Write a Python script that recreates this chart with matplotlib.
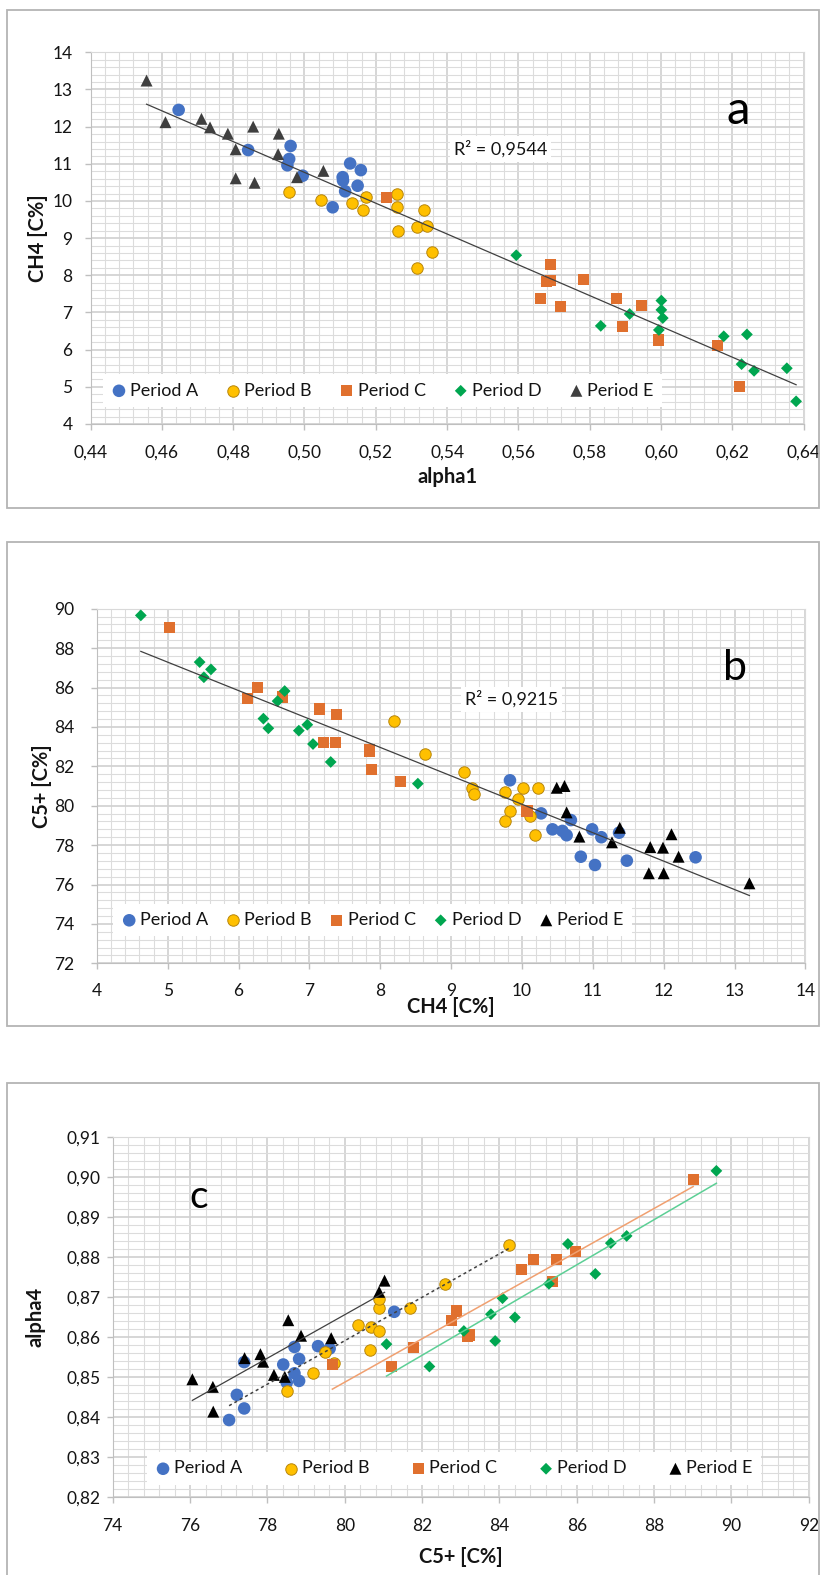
import numpy as np
import matplotlib
matplotlib.use("Agg")
import matplotlib.pyplot as plt
from matplotlib.patches import Rectangle
from matplotlib.ticker import MultipleLocator, FuncFormatter

plt.rcParams['font.family'] = ['Lato', 'DejaVu Sans']

W, H = 822, 1575

# --- panel a: alpha1 vs CH4 ---
a_alpha1_A = [0.4647, 0.4842, 0.4961, 0.4957, 0.4952, 0.4995, 0.5128, 0.5158, 0.5107, 0.5108, 0.5149, 0.5114, 0.5079]
a_ch4_A = [12.45, 11.37, 11.48, 11.13, 10.96, 10.68, 11.01, 10.83, 10.64, 10.55, 10.41, 10.26, 9.83]
a_alpha1_B = [0.4957, 0.5046, 0.5134, 0.5163, 0.5173, 0.5259, 0.5260, 0.5263, 0.5335, 0.5315, 0.5344, 0.5358, 0.5315]
a_ch4_B = [10.24, 10.02, 9.95, 9.77, 10.12, 10.18, 9.83, 9.18, 9.77, 9.29, 9.33, 8.64, 8.19]
a_alpha1_C = [0.5231, 0.5689, 0.5680, 0.5690, 0.5661, 0.5717, 0.5783, 0.5874, 0.5946, 0.5891, 0.5992, 0.6158, 0.6219]
a_ch4_C = [10.10, 8.30, 7.83, 7.87, 7.38, 7.16, 7.89, 7.38, 7.19, 6.63, 6.26, 6.11, 5.00]
a_alpha1_D = [0.5594, 0.5831, 0.5912, 0.6001, 0.6001, 0.6005, 0.5994, 0.6176, 0.6241, 0.6226, 0.6261, 0.6353, 0.6379]
a_ch4_D = [8.54, 6.64, 6.96, 7.32, 7.07, 6.85, 6.53, 6.36, 6.41, 5.61, 5.43, 5.50, 4.61]
a_alpha1_E = [0.4557, 0.4610, 0.4711, 0.4735, 0.4785, 0.4807, 0.4856, 0.4928, 0.4926, 0.4807, 0.4860, 0.4979, 0.5053]
a_ch4_E = [13.24, 12.12, 12.21, 11.98, 11.81, 11.39, 12.00, 11.81, 11.26, 10.61, 10.49, 10.64, 10.81]

# --- panel b: CH4 vs C5+ ---
b_ch4_A = [9.83, 10.27, 10.69, 10.43, 10.57, 10.63, 10.99, 11.12, 11.37, 10.83, 11.03, 11.48, 12.45]
b_c5_A = [81.29, 79.61, 79.27, 78.80, 78.72, 78.50, 78.80, 78.40, 78.63, 77.41, 76.99, 77.21, 77.38]
b_ch4_B = [8.19, 8.63, 9.18, 9.29, 9.32, 9.76, 10.02, 10.23, 9.95, 9.83, 9.76, 10.11, 10.18]
b_c5_B = [84.30, 82.62, 81.73, 80.88, 80.61, 80.71, 80.88, 80.88, 80.32, 79.73, 79.22, 79.48, 78.50]
b_ch4_C = [5.02, 6.12, 6.27, 6.62, 7.14, 7.38, 7.20, 7.37, 7.85, 7.85, 7.88, 8.29, 10.07]
b_c5_C = [89.06, 85.42, 86.01, 85.52, 84.91, 84.64, 83.23, 83.23, 82.86, 82.76, 81.83, 81.22, 79.73]
b_ch4_D = [4.62, 5.45, 5.61, 5.51, 6.65, 6.55, 6.35, 6.42, 6.97, 6.85, 7.05, 7.30, 8.53]
b_c5_D = [89.66, 87.29, 86.92, 86.52, 85.82, 85.31, 84.42, 83.93, 84.11, 83.81, 83.13, 82.22, 81.12]
b_ch4_E = [10.49, 10.60, 10.63, 10.81, 11.38, 11.27, 11.81, 11.99, 12.11, 12.21, 11.79, 12.00, 13.21]
b_c5_E = [80.91, 81.00, 79.66, 78.43, 78.88, 78.14, 77.90, 77.87, 78.55, 77.41, 76.57, 76.57, 76.06]

# --- panel c: C5+ vs alpha4 ---
c_c5_A = [77.40, 77.21, 77.40, 77.01, 78.41, 78.70, 78.82, 78.70, 78.50, 78.82, 79.31, 79.61, 81.28]
c_alpha4_A = [0.8537, 0.8455, 0.8421, 0.8392, 0.8531, 0.8575, 0.8545, 0.8509, 0.8486, 0.8490, 0.8577, 0.8571, 0.8663]
c_c5_B = [78.50, 79.19, 79.49, 79.73, 80.35, 80.66, 80.68, 80.89, 80.89, 80.89, 81.69, 82.59, 84.24]
c_alpha4_B = [0.8465, 0.8509, 0.8563, 0.8535, 0.8630, 0.8567, 0.8626, 0.8616, 0.8672, 0.8694, 0.8672, 0.8732, 0.8830]
c_c5_C = [79.68, 81.20, 81.77, 82.77, 82.90, 83.18, 83.22, 84.58, 84.88, 85.48, 85.96, 85.38, 89.01]
c_alpha4_C = [0.8531, 0.8526, 0.8574, 0.8641, 0.8665, 0.8602, 0.8605, 0.8769, 0.8793, 0.8793, 0.8813, 0.8740, 0.8995]
c_c5_D = [81.08, 82.19, 83.08, 83.78, 84.08, 84.40, 83.89, 85.28, 85.77, 86.48, 86.88, 87.29, 89.61]
c_alpha4_D = [0.8582, 0.8526, 0.8615, 0.8657, 0.8697, 0.8649, 0.8590, 0.8733, 0.8833, 0.8758, 0.8835, 0.8853, 0.9016]
c_c5_E = [76.06, 76.59, 76.60, 77.41, 77.82, 77.89, 78.17, 78.45, 78.54, 78.87, 79.65, 80.89, 81.03]
c_alpha4_E = [0.8494, 0.8475, 0.8413, 0.8547, 0.8557, 0.8538, 0.8505, 0.8500, 0.8642, 0.8603, 0.8597, 0.8713, 0.8741]

periods = ["Period A", "Period B", "Period C", "Period D", "Period E"]
r2_a = "R² = 0,9544"
r2_b = "R² = 0,9215"

# marker styles per period
STYLE = {
    "Period A": dict(marker="o", s=82, color="#4472C4", edgecolors="none"),
    "Period B": dict(marker="o", s=68, color="#FFC000", edgecolors="#B8860B", linewidths=0.7),
    "Period C": dict(marker="s", s=64, color="#E0702E", edgecolors="none"),
    "Period D": dict(marker="D", s=36, color="#00A650", edgecolors="none"),
    "Period E": dict(marker="^", s=74, color="#000000", edgecolors="none"),
}

fig = plt.figure(figsize=(W / 100, H / 100), dpi=100)


def px_axes(x0, y0, x1, y1):
    return fig.add_axes([x0 / W, 1 - y1 / H, (x1 - x0) / W, (y1 - y0) / H])


def frame(x0, y0, x1, y1):
    fig.patches.append(Rectangle((x0 / W, 1 - y1 / H), (x1 - x0) / W, (y1 - y0) / H,
                                 transform=fig.transFigure, fill=False,
                                 edgecolor="#b4b4b4", linewidth=1.3))


def comma(fmt):
    return FuncFormatter(lambda v, p: (fmt % v).replace(".", ","))


def style_axes(ax, xmaj, xmin, ymaj, ymin, xpad, ypad):
    ax.xaxis.set_major_locator(MultipleLocator(xmaj))
    ax.xaxis.set_minor_locator(MultipleLocator(xmin))
    ax.yaxis.set_major_locator(MultipleLocator(ymaj))
    ax.yaxis.set_minor_locator(MultipleLocator(ymin))
    ax.grid(which="major", color="#d0d0d0", linewidth=1.2, zorder=0)
    ax.grid(which="minor", color="#dcdcdc", linewidth=0.8, zorder=0)
    ax.set_axisbelow(True)
    ax.tick_params(which="major", direction="out", length=4, width=1, color="#bfbfbf",
                   labelsize=12.5, labelcolor="#141414")
    ax.tick_params(axis="x", which="major", pad=xpad)
    ax.tick_params(axis="y", which="major", pad=ypad)
    ax.tick_params(which="minor", length=0)
    for side in ("left", "bottom"):
        ax.spines[side].set_color("#bfbfbf")
    for side in ("top", "right"):
        ax.spines[side].set_color("#d9d9d9")


def add_legend(ax, box, tri_color):
    handles = []
    for name in periods:
        st = dict(STYLE[name])
        if name == "Period E":
            st["color"] = tri_color
        handles.append(ax.scatter([], [], label=name, **st))
    leg = ax.legend(handles=handles, ncol=5, loc="center", bbox_to_anchor=box, mode="expand",
                    frameon=True, facecolor="white", edgecolor="none", framealpha=1,
                    fancybox=False, borderaxespad=0, borderpad=0.45, handletextpad=0.15,
                    columnspacing=0.5, handlelength=0.9, scatterpoints=1, fontsize=13)
    leg.set_zorder(5)
    for t in leg.get_texts():
        t.set_color("#141414")


def scatter_all(ax, xs, ys, tri_color):
    for name, x, y in zip(periods, xs, ys):
        st = dict(STYLE[name])
        if name == "Period E":
            st["color"] = tri_color
        ax.scatter(x, y, zorder=3, **st)


def trend(ax, x, y, **kw):
    x = np.asarray(x)
    k, b = np.polyfit(x, np.asarray(y), 1)
    xx = np.array([x.min(), x.max()])
    ax.plot(xx, k * xx + b, zorder=4, **kw)


label_kw = dict(fontsize=14.5, fontweight="bold", color="#141414", va="center")

# ---------------- panel a ----------------
frame(7, 10, 819, 508)
ax = px_axes(90.6, 52.3, 803.6, 424)
xs = [a_alpha1_A, a_alpha1_B, a_alpha1_C, a_alpha1_D, a_alpha1_E]
ys = [a_ch4_A, a_ch4_B, a_ch4_C, a_ch4_D, a_ch4_E]
scatter_all(ax, xs, ys, "#3f3f3f")
trend(ax, np.concatenate(xs), np.concatenate(ys), color="#404040", linewidth=0.9)
ax.set_xlim(0.44, 0.64)
ax.set_ylim(4, 14)
style_axes(ax, 0.02, 0.004, 1, 0.2, xpad=10.5, ypad=9)
ax.xaxis.set_major_formatter(comma("%.2f"))
ax.set_xlabel("alpha1", **label_kw)
ax.xaxis.set_label_coords(0.5, -(477 - 424) / 371.7)
ax.set_ylabel("CH4 [C%]", **label_kw)
ax.yaxis.set_label_coords((38 - 90.6) / 713, 0.5)
ax.text(0.5419, 11.24, r2_a, fontsize=13, color="#141414", va="baseline", zorder=6,
        bbox=dict(facecolor="white", edgecolor="none", pad=3))
ax.text(0.44 + (738 - 90.6) / 3565, 14 - (124 - 52.3) / 37.17, "a", fontsize=34,
        ha="center", va="baseline", color="black")
add_legend(ax, (0.017, 0.043, 0.784, 0.094), "#3f3f3f")

# ---------------- panel b ----------------
frame(7, 542, 819, 1026)
ax = px_axes(96.9, 608.7, 805.4, 963.3)
xs = [b_ch4_A, b_ch4_B, b_ch4_C, b_ch4_D, b_ch4_E]
ys = [b_c5_A, b_c5_B, b_c5_C, b_c5_D, b_c5_E]
scatter_all(ax, xs, ys, "#000000")
trend(ax, np.concatenate(xs), np.concatenate(ys), color="#404040", linewidth=0.9)
ax.set_xlim(4, 14)
ax.set_ylim(72, 90)
style_axes(ax, 1, 0.2, 2, 0.4, xpad=10.5, ypad=12)
ax.set_xlabel("CH4 [C%]", **label_kw)
ax.xaxis.set_label_coords(0.5, -(1007 - 963.3) / 354.6)
ax.set_ylabel("C5+ [C%]", **label_kw)
ax.yaxis.set_label_coords((42 - 96.9) / 708.5, 0.5)
ax.text(9.195, 85.11, r2_b, fontsize=13, color="#141414", va="baseline", zorder=6,
        bbox=dict(facecolor="white", edgecolor="none", pad=3))
ax.text(4 + (735 - 96.9) / 70.85, 90 - (680 - 608.7) / 19.7, "b", fontsize=31,
        ha="center", va="baseline", color="black")
add_legend(ax, (0.0227, 0.071, 0.732, 0.102), "#000000")

# ---------------- panel c ----------------
frame(7, 1083, 819, 1590)
ax = px_axes(112.7, 1137.3, 808.8, 1496.7)
xs = [c_c5_A, c_c5_B, c_c5_C, c_c5_D, c_c5_E]
ys = [c_alpha4_A, c_alpha4_B, c_alpha4_C, c_alpha4_D, c_alpha4_E]
scatter_all(ax, xs, ys, "#000000")
# separate trend lines per period group
trend(ax, c_c5_E, c_alpha4_E, color="#404040", linewidth=0.9)
trend(ax, c_c5_A + c_c5_B, c_alpha4_A + c_alpha4_B, color="#404040", linewidth=1.1,
      linestyle=(0, (2, 2)))
trend(ax, c_c5_C, c_alpha4_C, color="#F0A070", linewidth=1.1)
trend(ax, c_c5_D, c_alpha4_D, color="#5CCF95", linewidth=1.1)
ax.set_xlim(74, 92)
ax.set_ylim(0.82, 0.91)
style_axes(ax, 2, 0.4, 0.01, 0.002, xpad=11, ypad=5)
ax.yaxis.set_major_formatter(comma("%.2f"))
ax.set_xlabel("C5+ [C%]", **label_kw)
ax.xaxis.set_label_coords(0.5, -(1557 - 1496.7) / 359.4)
ax.set_ylabel("alpha4", **label_kw)
ax.yaxis.set_label_coords((35 - 112.7) / 696.1, 0.5)
ax.text(74 + (198.5 - 112.7) / 38.67, 0.91 - (1208 - 1137.3) / 3993, "c", fontsize=28,
        ha="center", va="baseline", color="black")
add_legend(ax, (0.049, 0.033, 0.882, 0.091), "#000000")

fig.savefig("out.png", dpi=100)
